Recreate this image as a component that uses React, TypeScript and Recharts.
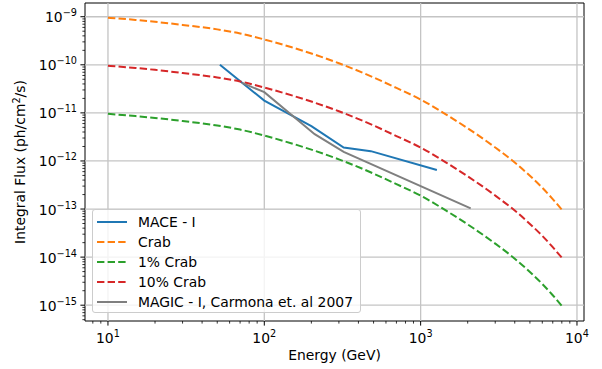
import React from 'react';
import { LineChart, Line, XAxis, YAxis, ReferenceLine, ReferenceArea, Legend } from 'recharts';

// energies in GeV, integral flux in ph/cm^2/s
const crabEnergy = [10, 15, 20, 30, 50, 70, 100, 150, 200, 300, 500, 700, 1000, 1500, 2000, 3000, 4000, 5000, 6000, 7000, 8000];
const crabFlux = [9.55e-10, 8.59e-10, 7.85e-10, 6.76e-10, 5.46e-10, 4.49e-10, 3.37e-10, 2.31e-10, 1.72e-10, 1.08e-10, 5.46e-11, 3.3e-11, 1.9e-11, 8.71e-12, 4.79e-12, 1.91e-12, 9.29e-13, 4.91e-13, 2.77e-13, 1.61e-13, 9.7e-14];
const crab10Flux = [9.55e-11, 8.59e-11, 7.85e-11, 6.76e-11, 5.46e-11, 4.49e-11, 3.37e-11, 2.31e-11, 1.72e-11, 1.08e-11, 5.46e-12, 3.3e-12, 1.9e-12, 8.71e-13, 4.79e-13, 1.91e-13, 9.29e-14, 4.91e-14, 2.77e-14, 1.61e-14, 9.7e-15];
const crab1Flux = [9.55e-12, 8.59e-12, 7.85e-12, 6.76e-12, 5.46e-12, 4.49e-12, 3.37e-12, 2.31e-12, 1.72e-12, 1.08e-12, 5.46e-13, 3.3e-13, 1.9e-13, 8.71e-14, 4.79e-14, 1.91e-14, 9.29e-15, 4.91e-15, 2.77e-15, 1.61e-15, 9.7e-16];

const maceEnergy = [52, 100, 200, 322, 480, 1270];
const maceFlux = [1.0e-10, 1.8e-11, 5.3e-12, 1.9e-12, 1.6e-12, 6.5e-13];

const magicEnergy = [72, 100, 210, 322, 2090];
const magicFlux = [4.2e-11, 2.7e-11, 3.6e-12, 1.55e-12, 1.03e-13];

const xMajor = [10, 100, 1000, 10000];
const yMajor = [1e-15, 1e-14, 1e-13, 1e-12, 1e-11, 1e-10, 1e-9];

const xDomain = [7.13, 11090];
const yDomain = [4.69e-16, 1.93e-9];

const pts = (e: number[], f: number[]) => e.map((v, i) => ({ energy: v, flux: f[i] }));

const series = [
  { name: 'MACE - I', color: '#1f77b4', dash: undefined, curve: 'linear', data: pts(maceEnergy, maceFlux) },
  { name: 'Crab', color: '#ff7f0e', dash: '7.4 3.2', curve: 'monotone', data: pts(crabEnergy, crabFlux) },
  { name: '1% Crab', color: '#2ca02c', dash: '7.4 3.2', curve: 'monotone', data: pts(crabEnergy, crab1Flux) },
  { name: '10% Crab', color: '#d62728', dash: '7.4 3.2', curve: 'monotone', data: pts(crabEnergy, crab10Flux) },
  { name: 'MAGIC - I, Carmona et. al 2007', color: '#7f7f7f', dash: undefined, curve: 'linear', data: pts(magicEnergy, magicFlux) },
];

const withMinors = (majors: number[], lo: number, hi: number) => {
  const out: number[] = [];
  [majors[0] / 10, ...majors].forEach(m => {
    for (let k = 1; k < 10; k++) {
      const v = m * k;
      if (v >= lo && v <= hi) out.push(v);
    }
  });
  return out;
};

const xTicks = withMinors(xMajor, xDomain[0], xDomain[1]);
const yTicks = withMinors(yMajor, yDomain[0], yDomain[1]);

const FONT = 'DejaVu Sans, sans-serif';
const FS = 13.9;
const SUP = 9.7;

const isMajor = (v: number) => {
  const l = Math.log10(v);
  return Math.abs(l - Math.round(l)) < 1e-6;
};

const XTick = (props: any) => {
  const { x, y, payload } = props;
  const v = payload.value;
  const major = isMajor(v);
  const exp = Math.round(Math.log10(v));
  return (
    <g>
      <line x1={x} x2={x} y1={y} y2={y + (major ? 4.6 : 2.6)} stroke="#000" strokeWidth={major ? 1 : 0.8} />
      {major && (
        <text x={x} y={y + 21.5} textAnchor="middle" fontSize={FS} fontFamily={FONT} fill="#000">
          10<tspan dy={-6} fontSize={SUP}>{exp}</tspan>
        </text>
      )}
    </g>
  );
};

const YTick = (props: any) => {
  const { x, y, payload } = props;
  const v = payload.value;
  const major = isMajor(v);
  const exp = Math.round(Math.log10(v));
  return (
    <g>
      <line x1={x - (major ? 4.6 : 2.6)} x2={x} y1={y} y2={y} stroke="#000" strokeWidth={major ? 1 : 0.8} />
      {major && (
        <text x={x - 8} y={y + 5.5} textAnchor="end" fontSize={FS} fontFamily={FONT} fill="#000">
          10<tspan dy={-6} fontSize={SUP}>{'\u2212' + Math.abs(exp)}</tspan>
        </text>
      )}
    </g>
  );
};

const LegendBox = () => (
  <div
    style={{
      width: 269,
      height: 104,
      boxSizing: 'border-box',
      border: '1px solid #cccccc',
      borderRadius: 3,
      background: 'rgba(255,255,255,0.8)',
      position: 'relative',
      fontFamily: FONT,
      fontSize: FS,
    }}
  >
    {series.map((s, i) => (
      <div key={s.name} style={{ position: 'absolute', left: 0, top: 2 + i * 20, height: 20, width: '100%' }}>
        <svg width={40} height={20} style={{ position: 'absolute', left: 0, top: 0 }}>
          <line x1={4} x2={34} y1={10} y2={10} stroke={s.color} strokeWidth={2} strokeDasharray={s.dash} />
        </svg>
        <span style={{ position: 'absolute', left: 45, top: 1, lineHeight: '18px', whiteSpace: 'nowrap', color: '#000' }}>
          {s.name}
        </span>
      </div>
    ))}
  </div>
);

export default function App() {
  return (
    <div style={{ position: 'absolute', left: 0, top: 0, width: 602, height: 369, background: '#fff' }}>
      <LineChart width={602} height={369} margin={{ top: 3, right: 18, bottom: 0, left: 0 }}>
        <XAxis
          dataKey="energy"
          type="number"
          scale="log"
          domain={xDomain}
          allowDataOverflow
          ticks={xTicks}
          interval={0}
          tick={<XTick />}
          tickLine={false}
          tickSize={0}
          tickMargin={0}
          axisLine={false}
          height={48}
        />
        <YAxis
          dataKey="flux"
          type="number"
          scale="log"
          domain={yDomain}
          allowDataOverflow
          ticks={yTicks}
          interval={0}
          tick={<YTick />}
          tickLine={false}
          tickSize={0}
          tickMargin={0}
          axisLine={false}
          width={85}
        />
        {xMajor.map(v => (
          <ReferenceLine key={'gx' + v} x={v} stroke="#c4c4c4" strokeWidth={1.3} />
        ))}
        {yMajor.map(v => (
          <ReferenceLine key={'gy' + v} y={v} stroke="#c4c4c4" strokeWidth={1.3} />
        ))}
        {series.map(s => (
          <Line
            key={s.name}
            data={s.data}
            dataKey="flux"
            name={s.name}
            type={s.curve as any}
            stroke={s.color}
            strokeWidth={2}
            strokeDasharray={s.dash}
            dot={false}
            activeDot={false}
            isAnimationActive={false}
          />
        ))}
        <ReferenceArea
          x1={xDomain[0]}
          x2={xDomain[1]}
          y1={yDomain[0]}
          y2={yDomain[1]}
          fill="none"
          fillOpacity={0}
          stroke="#000"
          strokeWidth={1}
          ifOverflow="visible"
        />
        <Legend
          layout="vertical"
          align="center"
          verticalAlign="middle"
          content={<LegendBox />}
          wrapperStyle={{ left: 92, top: 209, width: 269, height: 104 }}
        />
      </LineChart>
      <div
        style={{
          position: 'absolute',
          left: 85,
          width: 499,
          top: 347,
          textAlign: 'center',
          fontFamily: FONT,
          fontSize: FS,
          lineHeight: '16px',
        }}
      >
        Energy (GeV)
      </div>
      <svg width={40} height={369} style={{ position: 'absolute', left: 0, top: 0 }}>
        <text
          x={0}
          y={0}
          transform="translate(24.5,162) rotate(-90)"
          textAnchor="middle"
          fontSize={FS}
          fontFamily={FONT}
          fill="#000"
        >
          Integral Flux (ph/cm<tspan dy={-5} fontSize={SUP}>2</tspan>
          <tspan dy={5}>/s)</tspan>
        </text>
      </svg>
    </div>
  );
}
